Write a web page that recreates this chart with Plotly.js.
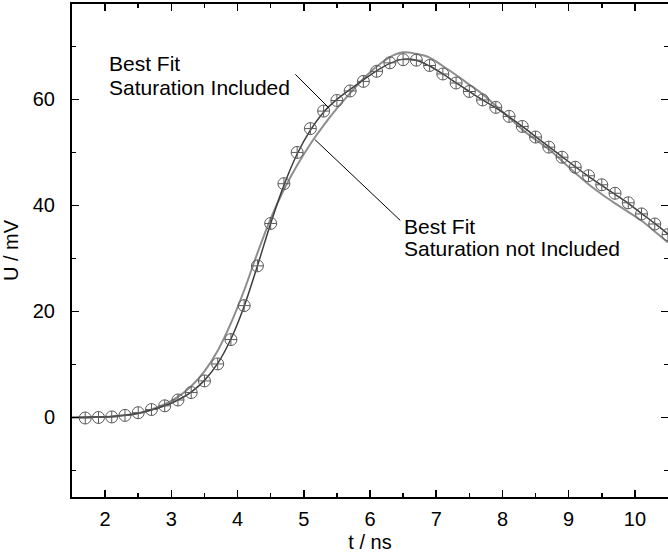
<!DOCTYPE html>
<html>
<head>
<meta charset="utf-8">
<script src="https://cdn.plot.ly/plotly-3.0.1.min.js"></script>
<style>
html,body{margin:0;padding:0;background:#fff;overflow:hidden;}
#chart{width:668px;height:556px;}
</style>
</head>
<body>
<div id="chart"></div>
<script>
// Measured data (markers)
var tData = [1.7,1.9,2.1,2.3,2.5,2.7,2.9,3.1,3.3,3.5,3.7,3.9,4.1,4.3,4.5,4.7,4.9,5.1,5.3,5.5,5.7,5.9,6.1,6.3,6.5,6.7,6.9,7.1,7.3,7.5,7.7,7.9,8.1,8.3,8.5,8.7,8.9,9.1,9.3,9.5,9.7,9.9,10.1,10.3,10.5];
var uData = [-0.1,0,0.1,0.4,0.9,1.5,2.2,3.3,4.7,6.9,10.1,14.7,21.1,28.6,36.6,44.1,50.0,54.5,57.8,59.8,61.6,63.4,65.3,66.9,67.5,67.4,66.4,64.8,63.1,61.5,59.9,58.5,56.8,54.9,52.9,51.0,49.1,47.2,45.6,43.9,42.3,40.5,38.4,36.5,34.5];

// Fit curves
var tFit = [1.5,1.7,1.9,2.1,2.3,2.5,2.7,2.9,3.1,3.3,3.5,3.7,3.9,4.1,4.3,4.5,4.7,4.9,5.1,5.3,5.5,5.7,5.9,6.1,6.3,6.5,6.7,6.9,7.1,7.3,7.5,7.7,7.9,8.1,8.3,8.5,8.7,8.9,9.1,9.3,9.5,9.7,9.9,10.1,10.3,10.5];
var uFitSat = [0,0.05,0.1,0.2,0.4,0.8,1.4,2.2,3.3,4.8,7.0,10.2,14.8,21.0,28.6,36.6,43.8,49.7,54.2,57.6,60.0,61.9,63.7,65.4,66.8,67.6,67.4,66.3,64.8,63.1,61.5,59.9,58.4,56.7,54.9,53.0,51.1,49.2,47.3,45.5,43.8,42.1,40.4,38.5,36.6,34.6];
var uFitNoSat = [0,0.05,0.1,0.2,0.4,0.8,1.5,2.5,3.9,5.9,8.7,12.6,17.8,24.0,31.0,37.5,43.0,47.6,51.6,55.1,58.3,61.2,63.9,66.2,68.0,68.9,68.6,67.9,66.3,64.6,62.8,61.0,58.8,56.6,54.3,52.4,50.6,48.4,46.1,44.0,42.1,40.4,38.8,37.1,35.1,33.0];

var xTicks = [2,3,4,5,6,7,8,9,10];
var yTicks = [0,20,40,60];

var labelSat = ['Best Fit', 'Saturation Included'];
var labelNoSat = ['Best Fit', 'Saturation not Included'];

var FONT = 'Liberation Sans, Arial, sans-serif';
var tf = {family:FONT, size:20, color:'#000'};
var af = {family:FONT, size:21, color:'#000'};

var traces = [
  {x:tFit, y:uFitNoSat, mode:'lines', line:{color:'#8e8e8e', width:2, shape:'spline'}, hoverinfo:'skip'},
  {x:tFit, y:uFitSat, mode:'lines', line:{color:'#3c3c3c', width:1.5, shape:'spline'}, hoverinfo:'skip'},
  {x:tData, y:uData, mode:'markers', marker:{symbol:'circle-cross-open', size:12, color:'#5a5a5a', line:{width:1, color:'#5a5a5a'}}}
];

var axisCommon = {
  showline:true, linecolor:'#000', linewidth:2, mirror:'ticks',
  ticks:'inside', ticklen:7, tickwidth:1.5, tickcolor:'#000',
  showgrid:false, zeroline:false, automargin:false,
  tickfont:tf
};

function txt(x, y, s) {
  return {x:x, y:y, xref:'x', yref:'y', xanchor:'left', yanchor:'middle', align:'left',
          showarrow:false, text:s, font:af};
}

var layout = {
  width:668, height:556,
  margin:{l:72, r:0, t:4, b:59},
  paper_bgcolor:'#fff', plot_bgcolor:'#fff',
  showlegend:false,
  font:{family:FONT, size:20, color:'#000'},
  xaxis: Object.assign({}, axisCommon, {
    range:[1.5,10.5], tickmode:'array', tickvals:xTicks, ticktext:xTicks.map(String),
    minor:{ticks:'inside', ticklen:4, tickwidth:1.5, tickcolor:'#000', dtick:0.5, tick0:0},
    ticklabelstandoff:3,
    title:{text:'t / ns', font:tf, standoff:6}
  }),
  yaxis: Object.assign({}, axisCommon, {
    range:[-15,78], tickmode:'array', tickvals:yTicks, ticktext:yTicks.map(String),
    minor:{ticks:'inside', ticklen:4, tickwidth:1.5, tickcolor:'#000', dtick:10, tick0:-10},
    ticklabelstandoff:11,
    title:{text:'U / mV', font:tf, standoff:10}
  }),
  annotations:[
    txt(2.03, 66.8, labelSat[0]),
    txt(2.03, 62.3, labelSat[1]),
    txt(6.48, 36.1, labelNoSat[0]),
    txt(6.48, 31.8, labelNoSat[1]),
    {x:5.38, y:58.4, ax:4.85, ay:65.0, xref:'x', yref:'y', axref:'x', ayref:'y', text:'', showarrow:true,
     arrowhead:0, arrowwidth:1, arrowcolor:'#000', standoff:0, startstandoff:0},
    {x:5.17, y:52.4, ax:6.48, ay:36.9, xref:'x', yref:'y', axref:'x', ayref:'y', text:'', showarrow:true,
     arrowhead:0, arrowwidth:1, arrowcolor:'#000', standoff:0, startstandoff:0}
  ]
};

Plotly.newPlot('chart', traces, layout, {staticPlot:true, displayModeBar:false});
</script>
</body>
</html>
